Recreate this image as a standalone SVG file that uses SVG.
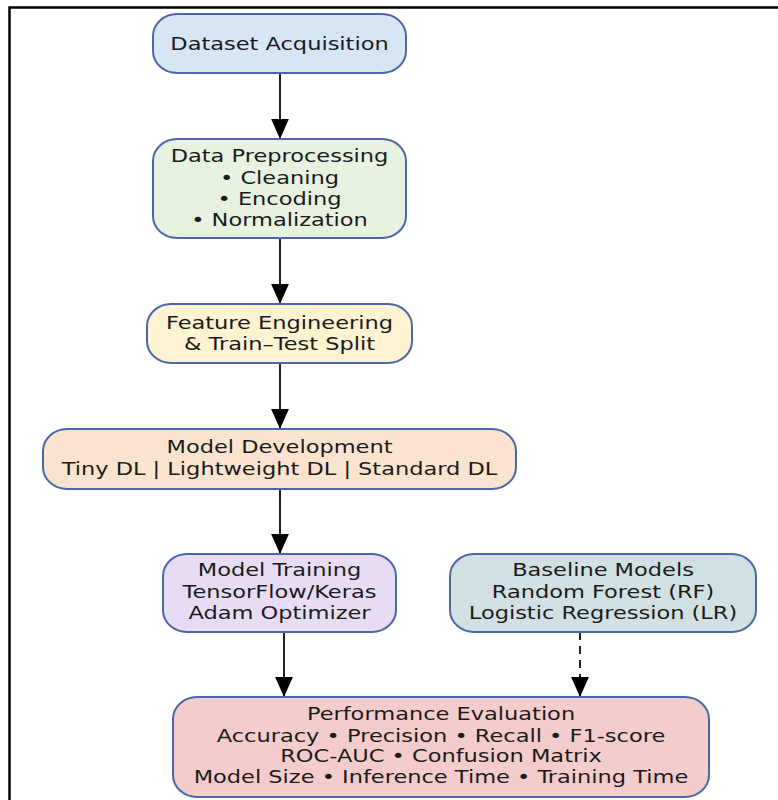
<svg xmlns="http://www.w3.org/2000/svg" width="778" height="800" viewBox="0 0 778 800">
<style>
.box{stroke:#4a68a8;stroke-width:2}
.t{font-family:"DejaVu Sans",sans-serif;font-size:18px;fill:#1a1a1a;text-anchor:middle}
.c{stroke:#222;stroke-width:2;fill:none}
.d{stroke-dasharray:8 6}
</style>
<defs>
<marker id="ah" markerUnits="userSpaceOnUse" markerWidth="20" markerHeight="18" refX="18" refY="8" orient="auto" viewBox="0 0 18 16">
<path d="M0 0 L18 8 L0 16 Z" fill="#000"/>
</marker>
</defs>
<rect width="778" height="800" fill="#fff"/>
<path d="M9.5 800 V7.5 H778" fill="none" stroke="#000" stroke-width="2.5"/>
<g id="connectors">
<line class="c" x1="280" y1="73" x2="280" y2="139" marker-end="url(#ah)"/>
<line class="c" x1="280" y1="238" x2="280" y2="304" marker-end="url(#ah)"/>
<line class="c" x1="280" y1="363" x2="280" y2="429" marker-end="url(#ah)"/>
<line class="c" x1="280" y1="489" x2="280" y2="554" marker-end="url(#ah)"/>
<line class="c" x1="284" y1="632" x2="284" y2="697" marker-end="url(#ah)"/>
<line class="c d" x1="580" y1="632" x2="580" y2="697" marker-end="url(#ah)"/>
</g>
<g id="dataset">
<rect class="box" x="153" y="14" width="253" height="59" rx="24" ry="22" fill="#d6e6f4"/>
<g transform="translate(279.5 0) scale(1.25 1)"><text class="t" x="0" y="50">Dataset Acquisition</text></g>
</g>
<g id="preprocessing">
<rect class="box" x="153" y="139" width="253" height="99" rx="24" ry="22" fill="#e7f2e1"/>
<g transform="translate(279.5 0) scale(1.25 1)">
<text class="t" x="0" y="162">Data Preprocessing</text>
<text class="t" x="0" y="184">• Cleaning</text>
<text class="t" x="0" y="205">• Encoding</text>
<text class="t" x="0" y="226">• Normalization</text>
</g>
</g>
<g id="feature">
<rect class="box" x="147" y="304" width="265" height="59" rx="24" ry="22" fill="#fdf2d2"/>
<g transform="translate(279.5 0) scale(1.25 1)">
<text class="t" x="0" y="329">Feature Engineering</text>
<text class="t" x="0" y="350">&amp; Train–Test Split</text>
</g>
</g>
<g id="development">
<rect class="box" x="43" y="429" width="473" height="60" rx="24" ry="22" fill="#fbe4cf"/>
<g transform="translate(279.5 0) scale(1.25 1)">
<text class="t" x="0" y="453">Model Development</text>
<text class="t" x="0" y="475">Tiny DL | Lightweight DL | Standard DL</text>
</g>
</g>
<g id="training">
<rect class="box" x="163" y="554" width="233" height="78" rx="24" ry="22" fill="#e8dcf5"/>
<g transform="translate(279.5 0) scale(1.25 1)">
<text class="t" x="0" y="576">Model Training</text>
<text class="t" x="0" y="598">TensorFlow/Keras</text>
<text class="t" x="0" y="619">Adam Optimizer</text>
</g>
</g>
<g id="baseline">
<rect class="box" x="450" y="554" width="306" height="78" rx="24" ry="22" fill="#d1e1e3"/>
<g transform="translate(603 0) scale(1.25 1)">
<text class="t" x="0" y="576">Baseline Models</text>
<text class="t" x="0" y="598">Random Forest (RF)</text>
<text class="t" x="0" y="619">Logistic Regression (LR)</text>
</g>
</g>
<g id="evaluation">
<rect class="box" x="173" y="697" width="536" height="100" rx="24" ry="22" fill="#f4cccb"/>
<g transform="translate(441 0) scale(1.25 1)">
<text class="t" x="0" y="720">Performance Evaluation</text>
<text class="t" x="0" y="742">Accuracy • Precision • Recall • F1-score</text>
<text class="t" x="0" y="762">ROC-AUC • Confusion Matrix</text>
<text class="t" x="0" y="783">Model Size • Inference Time • Training Time</text>
</g>
</g>
</svg>
